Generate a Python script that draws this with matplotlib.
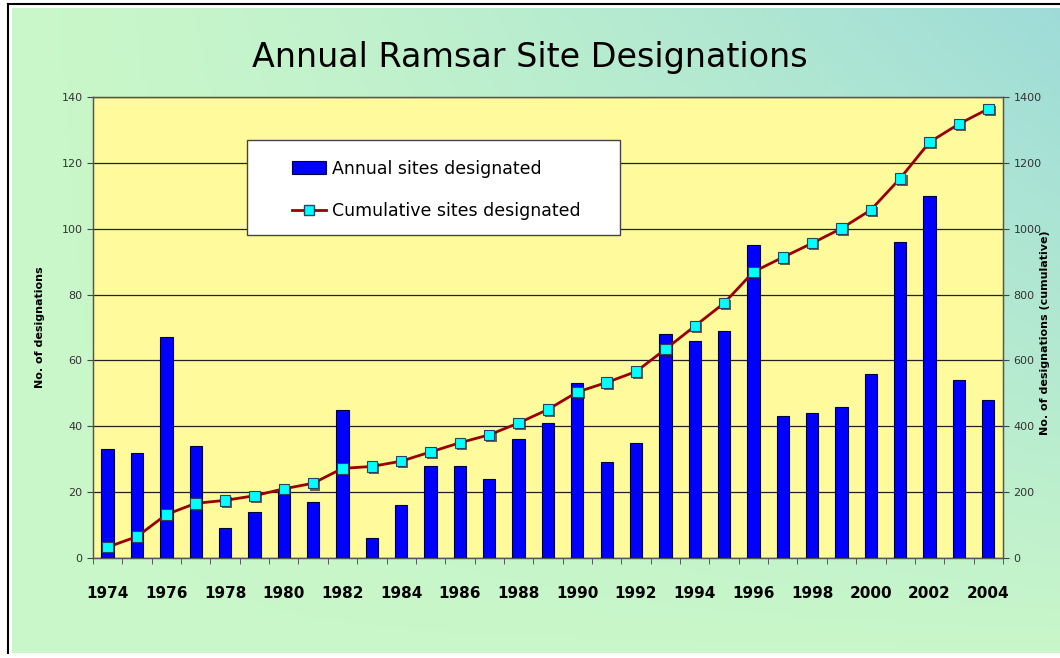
import numpy as np
import matplotlib
matplotlib.use("Agg")
import matplotlib.pyplot as plt
import matplotlib.patheffects as pe
from matplotlib.patches import Rectangle
from matplotlib.lines import Line2D

years = list(range(1974, 2005))
annual = [33, 32, 67, 34, 9, 14, 21, 17, 45, 6, 16, 28, 28, 24, 36, 41, 53,
          29, 35, 68, 66, 69, 95, 43, 44, 46, 56, 96, 110, 54, 48]
cumulative = [33, 65, 132, 166, 175, 189, 210, 227, 272, 278, 294, 322, 350,
              374, 410, 451, 504, 533, 566, 634, 704, 774, 869, 913, 956,
              1001, 1057, 1153, 1263, 1318, 1364]
label_years = list(range(1974, 2005, 2))

fig = plt.figure(figsize=(10.6, 6.58), dpi=100)
fig.patch.set_facecolor("white")

# background panel with gradient
bg = fig.add_axes([0.0075, 0.0076, 1.0, 0.9864], zorder=-10)
gx, gy = np.meshgrid(np.linspace(0, 1, 300), np.linspace(1, 0, 200))
t = np.clip(gx ** 1.4 * gy ** 0.9, 0, 1)[..., None]
green = np.array([0.79, 0.97, 0.79])
teal = np.array([0.62, 0.86, 0.85])
img = green * (1 - t) + teal * t
bg.imshow(img, extent=(0.004, 1.0, 0.0, 0.993), aspect="auto")
bg.set_xlim(0, 1)
bg.set_ylim(0, 1)
bg.set_xticks([])
bg.set_yticks([])
bg.set_facecolor("white")
for s in ["bottom", "right"]:
    bg.spines[s].set_visible(False)
for s in ["left", "top"]:
    bg.spines[s].set_color("black")
    bg.spines[s].set_linewidth(1.5)

# main chart
ax = fig.add_axes([0.0877, 0.152, 0.8585, 0.7006])
ax.set_facecolor("#fffb9c")
ax.bar(years, annual, width=0.42, color="#0000ff", edgecolor="#000040",
       linewidth=0.8, zorder=3)
ax.set_xlim(1973.5, 2004.5)
ax.set_ylim(0, 140)
ax.set_yticks(range(0, 141, 20))
ax.yaxis.grid(True, color="#222222", linewidth=0.9)
ax.set_axisbelow(True)
ax.set_xticks(label_years)
ax.set_xticklabels([str(y) for y in label_years], fontweight="bold", fontsize=11)
ax.set_xticks(np.arange(1973.5, 2005, 1), minor=True)
ax.tick_params(axis="x", which="major", length=0, pad=20)
ax.tick_params(axis="x", which="minor", length=4, direction="out", color="#444444")
ax.tick_params(axis="y", length=4, direction="out", labelsize=8,
               labelcolor="#333333", color="#444444")
for s in ax.spines.values():
    s.set_color("#555555")
    s.set_linewidth(1)

ax2 = ax.twinx()
ax2.set_ylim(0, 1400)
ax2.set_yticks(range(0, 1401, 200))
ax2.tick_params(axis="y", length=4, direction="out", labelsize=8,
                labelcolor="#333333", color="#444444")
for s in ax2.spines.values():
    s.set_color("#555555")
ax2.plot(years, cumulative, color="#990000", linewidth=2, zorder=4)
ax2.plot(years, cumulative, linestyle="none", marker="s", markersize=7.5,
         markerfacecolor="#00ffff", markeredgecolor="#224466",
         markeredgewidth=0.8, zorder=5,
         path_effects=[pe.SimplePatchShadow(offset=(1.5, -1.5),
                                            shadow_rgbFace="#222222", alpha=0.7),
                       pe.Normal()])

# legend box
ax2.add_patch(Rectangle((0.169, 0.700), 0.41, 0.207, transform=ax2.transAxes,
                        facecolor="white", edgecolor="#444444", linewidth=1,
                        zorder=10))
handles = [
    Rectangle((0, 0), 1, 1, facecolor="#0000ff", edgecolor="#000040", linewidth=0.8),
    Line2D([0], [0], color="#990000", linewidth=2, marker="s", markersize=7.5,
           markerfacecolor="#00ffff", markeredgecolor="#224466"),
]
leg = ax2.legend(handles, ["Annual sites designated", "Cumulative sites designated"],
                 loc="upper left", bbox_to_anchor=(0.205, 0.89),
                 frameon=False, fontsize=12.5, labelspacing=1.4,
                 handlelength=2.0, handleheight=0.8, handletextpad=0.3,
                 borderpad=0.2)
leg.set_zorder(11)

fig.text(0.5, 1 - 57 / 658, "Annual Ramsar Site Designations",
         ha="center", va="center", fontsize=24)
fig.text(40 / 1060, 1 - 327 / 658, "No. of designations", rotation=90,
         ha="center", va="center", fontsize=8, fontweight="bold")
fig.text(1045 / 1060, 1 - 333 / 658, "No. of designations (cumulative)",
         rotation=90, ha="center", va="center", fontsize=8, fontweight="bold")

fig.savefig("out.png", dpi=100)
